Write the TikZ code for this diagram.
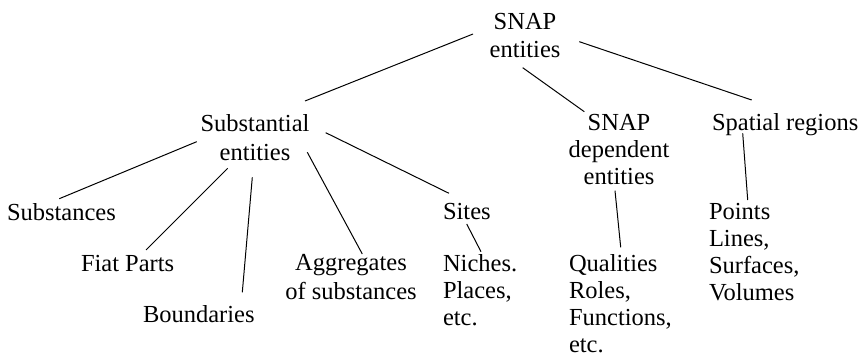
\documentclass[tikz,border=0pt]{standalone}
\usepackage{fontspec}
\setmainfont{Liberation Serif}
\usetikzlibrary{calc}
\tikzset{
  lbl/.style={inner sep=0pt, outer sep=0pt, font=\fontsize{24.5}{27}\selectfont},
  lblc/.style={lbl, anchor=base},
  lbll/.style={lbl, anchor=base west},
  link/.style={line width=1pt, black}
}
\newcommand{\stkc}[1]{\begin{tabular}[t]{@{}c@{}}#1\end{tabular}}
\newcommand{\stkl}[1]{\begin{tabular}[t]{@{}l@{}}#1\end{tabular}}
\begin{document}
\begin{tikzpicture}[x=1pt,y=-1pt]
\useasboundingbox (0,0) rectangle (861,355);
% nodes
\node[lblc, font=\fontsize{24.5}{28.5}\selectfont] (top) at (525,29.3) {\stkc{SNAP\\entities}};
\node[lblc, font=\fontsize{24.5}{28.5}\selectfont] (sub) at (255,131.7) {\stkc{Substantial\\entities}};
\node[lblc] (dep) at (619,130.7) {\stkc{SNAP\\dependent\\entities}};
\node[lbll] (spat) at (712,130.7) {Spatial regions};
\node[lbll] (substances) at (7,220.7) {Substances};
\node[lbll] (fiat) at (81,271.7) {Fiat Parts};
\node[lbll] (bound) at (143,322.7) {Boundaries};
\node[lblc, font=\fontsize{24.5}{29}\selectfont] (aggr) at (351,270) {\stkc{Aggregates\\of substances}};
\node[lbll] (sites) at (443,219.3) {Sites};
\node[lbll] (niches) at (443,271.7) {\stkl{Niches.\\Places,\\etc.}};
\node[lbll] (qual) at (569,271.7) {\stkl{Qualities\\Roles,\\Functions,\\etc.}};
\node[lbll] (points) at (709,220) {\stkl{Points\\Lines,\\Surfaces,\\Volumes}};
% connectors
\draw[link] ($(top.base)+(-52,4.7)$) -- ($(sub.base)+(50,-30.7)$);
\draw[link] ($(top.base)+(-2.3,38.4)$) -- ($(dep.base)+(-34.7,-19)$);
\draw[link] ($(top.base)+(54.3,12.4)$) -- ($(spat.base west)+(39.7,-30.7)$);
\draw[link] ($(spat.base west)+(30.7,2.6)$) -- ($(points.base west)+(38.7,-20)$);
\draw[link] ($(dep.base)+(-4,60)$) -- ($(qual.base west)+(51.7,-24.4)$);
\draw[link] ($(sites.base west)+(23.7,4.7)$) -- ($(niches.base west)+(38,-20)$);
\draw[link] ($(sub.base)+(70.7,1)$) -- ($(sites.base west)+(6,-26)$);
\draw[link] ($(sub.base)+(-58.3,10)$) -- ($(substances.base west)+(52.3,-22)$);
\draw[link] ($(sub.base)+(-27.3,36.6)$) -- ($(fiat.base west)+(65,-21.7)$);
\draw[link] ($(sub.base)+(-2.7,45.6)$) -- ($(bound.base west)+(99.3,-30.4)$);
\draw[link] ($(sub.base)+(52.3,20.6)$) -- ($(aggr.base)+(11.3,-16)$);
\end{tikzpicture}
\end{document}
